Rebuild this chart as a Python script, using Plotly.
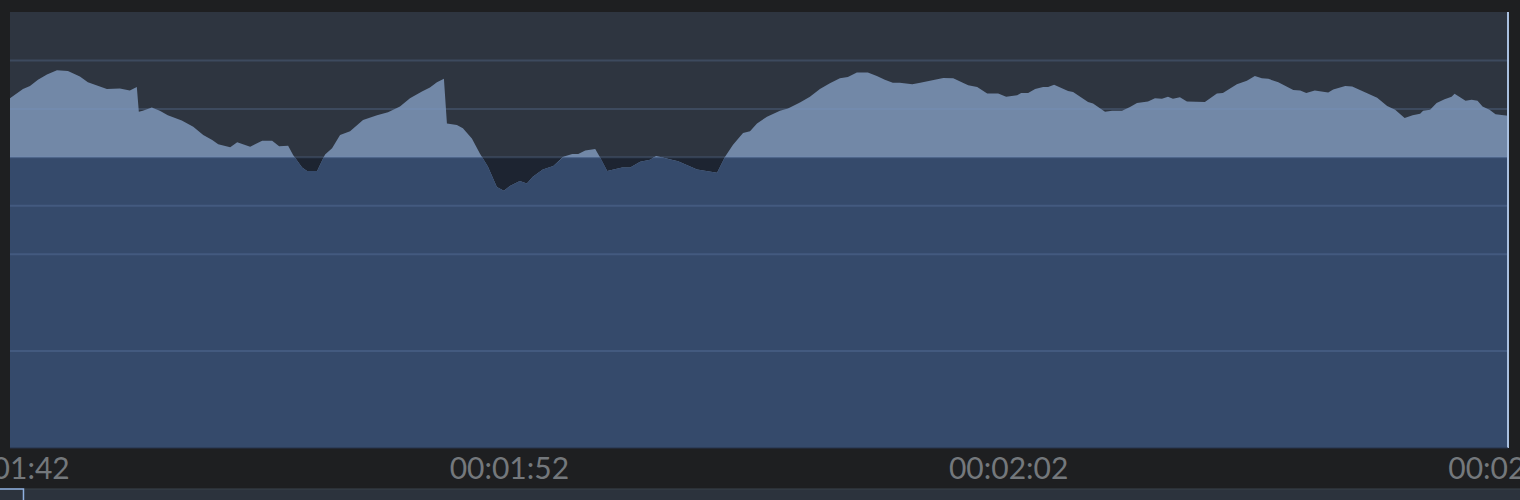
import numpy as np
import pandas as pd
import plotly.graph_objects as go

# ---- data: time (seconds from 00:00:00) and value ----
times_s = [
    102.00, 102.26, 102.40, 102.56, 102.74, 102.94, 103.16, 103.40, 103.56, 103.76,
    103.94, 104.20, 104.40, 104.54, 104.58, 104.66, 104.84, 105.00, 105.16, 105.44,
    105.67, 105.87, 106.05, 106.17, 106.41, 106.55, 106.81, 107.05, 107.25, 107.39,
    107.57, 107.67, 107.85, 107.95, 108.15, 108.31, 108.45, 108.61, 108.81, 109.07,
    109.35, 109.57, 109.81, 110.01, 110.25, 110.41, 110.55, 110.69, 110.75, 110.95,
    111.07, 111.25, 111.41, 111.57, 111.75, 111.89, 112.01, 112.21, 112.35, 112.47,
    112.67, 112.88, 113.08, 113.26, 113.38, 113.52, 113.72, 113.86, 113.96, 114.26,
    114.42, 114.62, 114.82, 114.94, 115.16, 115.38, 115.76, 116.16, 116.32, 116.48,
    116.68, 116.82, 116.96, 117.16, 117.42, 117.58, 117.82, 118.02, 118.22, 118.42,
    118.62, 118.78, 118.96, 119.18, 119.36, 119.52, 119.68, 119.82, 120.07, 120.23,
    120.43, 120.69, 120.89, 121.07, 121.19, 121.37, 121.57, 121.79, 121.95, 122.17,
    122.25, 122.39, 122.53, 122.69, 122.79, 122.91, 123.03, 123.19, 123.29, 123.47,
    123.59, 123.69, 123.93, 124.07, 124.27, 124.43, 124.57, 124.79, 124.93, 125.07,
    125.19, 125.29, 125.43, 125.57, 125.83, 125.93, 126.17, 126.29, 126.57, 126.77,
    126.93, 127.07, 127.20, 127.40, 127.70, 127.84, 127.96, 128.13, 128.40, 128.50,
    128.74, 128.88, 129.08, 129.28, 129.38, 129.58, 129.74, 129.93, 130.09, 130.24,
    130.30, 130.44, 130.57, 130.73, 130.87, 130.93, 131.05, 131.15, 131.27, 131.39,
    131.49, 131.63, 131.75, 131.93, 132.00,
]
values = [
    7.22, 7.41, 7.47, 7.60, 7.71, 7.80, 7.78, 7.67, 7.55, 7.48,
    7.41, 7.42, 7.38, 7.45, 6.94, 6.96, 7.03, 6.96, 6.87, 6.76,
    6.63, 6.46, 6.36, 6.27, 6.21, 6.31, 6.22, 6.34, 6.34, 6.23,
    6.24, 6.05, 5.79, 5.72, 5.72, 6.06, 6.19, 6.46, 6.54, 6.77,
    6.87, 6.93, 7.05, 7.22, 7.36, 7.44, 7.55, 7.62, 6.70, 6.67,
    6.60, 6.39, 6.08, 5.81, 5.39, 5.31, 5.41, 5.51, 5.46, 5.60,
    5.75, 5.82, 6.01, 6.07, 6.07, 6.14, 6.17, 5.92, 5.72, 5.79,
    5.79, 5.91, 5.95, 6.03, 5.97, 5.92, 5.75, 5.68, 6.01, 6.26,
    6.50, 6.54, 6.70, 6.84, 6.96, 7.01, 7.13, 7.25, 7.41, 7.53,
    7.63, 7.66, 7.75, 7.75, 7.68, 7.60, 7.54, 7.54, 7.51, 7.54,
    7.59, 7.64, 7.63, 7.55, 7.49, 7.45, 7.32, 7.32, 7.25, 7.28,
    7.33, 7.33, 7.41, 7.45, 7.45, 7.50, 7.45, 7.37, 7.35, 7.22,
    7.14, 7.11, 6.94, 6.96, 6.96, 7.04, 7.12, 7.15, 7.22, 7.21,
    7.25, 7.21, 7.24, 7.15, 7.15, 7.14, 7.32, 7.33, 7.51, 7.58,
    7.68, 7.63, 7.62, 7.55, 7.39, 7.38, 7.33, 7.38, 7.34, 7.40,
    7.47, 7.46, 7.37, 7.27, 7.23, 7.06, 6.98, 6.81, 6.87, 6.90,
    6.96, 6.98, 7.12, 7.20, 7.25, 7.31, 7.23, 7.17, 7.19, 7.17,
    7.05, 6.98, 6.89, 6.86, 6.86,
]
threshold = 6.0
y_range = [0, 9]
grid_vals = [2, 4, 5, 6, 7, 8]
x_start_s, x_end_s, tick_step_s = 102, 132, 10

# ---- insert threshold crossings so the split is exact ----
tx, ty = [times_s[0]], [values[0]]
for i in range(1, len(values)):
    t0, v0, t1, v1 = times_s[i - 1], values[i - 1], times_s[i], values[i]
    if (v0 - threshold) * (v1 - threshold) < 0:
        f = (threshold - v0) / (v1 - v0)
        tx.append(t0 + f * (t1 - t0))
        ty.append(threshold)
    tx.append(t1)
    ty.append(v1)
tx = np.array(tx)
ty = np.array(ty)
below = np.minimum(ty, threshold)

to_dt = lambda s: pd.to_datetime(np.asarray(s, dtype=float) * 1000, unit="ms")
X = to_dt(tx)

BG_PAGE = "#1e1f21"
BG_ABOVE = "#2e3540"
BG_BELOW = "#1d2431"
FILL_LIGHT = "#7288a7"
FILL_DARK = "#354a6b"
GRID = "rgba(120,150,200,0.22)"

fig = go.Figure()
fig.add_trace(go.Scatter(x=X, y=ty, mode="lines", line=dict(width=0, color=FILL_LIGHT),
                         fill="tozeroy", fillcolor=FILL_LIGHT, hoverinfo="skip", showlegend=False))
fig.add_trace(go.Scatter(x=X, y=below, mode="lines", line=dict(width=0, color=FILL_DARK),
                         fill="tozeroy", fillcolor=FILL_DARK, hoverinfo="skip", showlegend=False))

shapes = [
    dict(type="rect", xref="paper", yref="y", x0=0, x1=1, y0=y_range[0], y1=threshold,
         fillcolor=BG_BELOW, line=dict(width=0), layer="below"),
]
for g in grid_vals:
    shapes.append(dict(type="line", xref="paper", yref="y", x0=0, x1=1, y0=g, y1=g,
                       line=dict(color=GRID, width=2), layer="above"))
# right edge marker line
shapes.append(dict(type="line", xref="paper", yref="paper", x0=1, x1=1, y0=0, y1=1,
                   line=dict(color="#a9c0e0", width=2), layer="above"))
# bottom border of plot
shapes.append(dict(type="line", xref="paper", yref="paper", x0=0, x1=1, y0=0, y1=0,
                   line=dict(color="#27324a", width=1), layer="above"))
# navigator strip at bottom
shapes.append(dict(type="rect", xref="paper", yref="paper", x0=-0.02, x1=1.02,
                   y0=-0.125, y1=-0.094, fillcolor="#2c333d",
                   line=dict(color="#3a424c", width=1), layer="above"))
shapes.append(dict(type="rect", xref="paper", yref="paper", x0=-0.008, x1=0.009,
                   y0=-0.13, y1=-0.094, fillcolor="rgba(0,0,0,0)",
                   line=dict(color="#8fb0e0", width=1.5), layer="above"))

fig.update_layout(
    width=1520, height=500,
    margin=dict(l=10, r=12, t=12, b=52, autoexpand=False),
    paper_bgcolor=BG_PAGE,
    plot_bgcolor=BG_ABOVE,
    shapes=shapes,
    showlegend=False,
    xaxis=dict(
        type="date",
        automargin=False,
        range=[to_dt([x_start_s])[0], to_dt([x_end_s])[0]],
        tick0=to_dt([x_start_s])[0],
        dtick=tick_step_s * 1000,
        tickformat="%H:%M:%S",
        showgrid=False, zeroline=False, showline=False,
        ticks="", ticklabeloverflow="allow",
        tickfont=dict(family="Lato", size=30, color="#74787c"),
    ),
    yaxis=dict(
        automargin=False,
        range=y_range, showgrid=False, zeroline=False, showline=False,
        showticklabels=False, ticks="",
    ),
)

fig.write_html(
    "out.html",
    config={"displayModeBar": False},
    post_script="document.body.style.margin='0';document.body.style.background='#1e1f21';document.body.style.overflow='hidden';",
)
